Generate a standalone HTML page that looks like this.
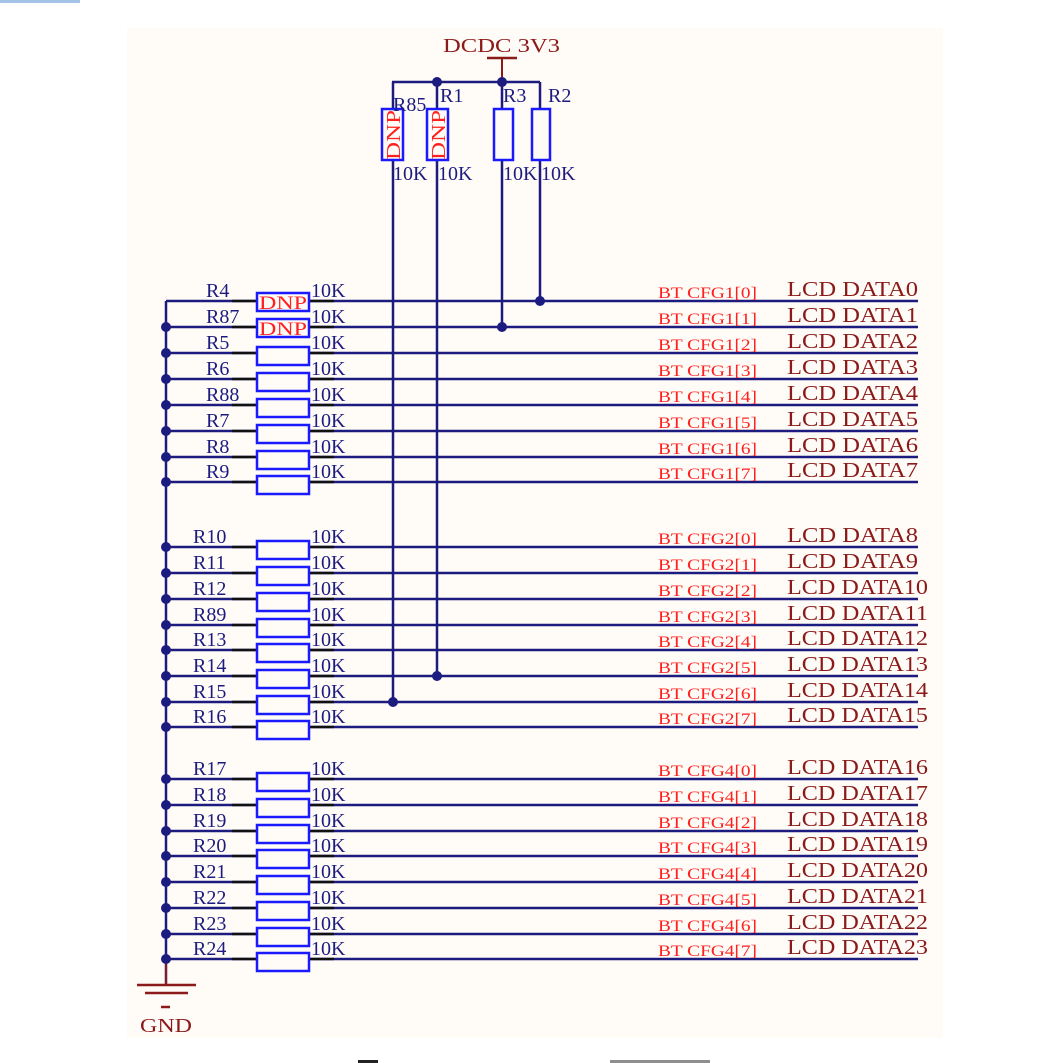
<!DOCTYPE html>
<html><head><meta charset="utf-8"><style>
html,body{margin:0;padding:0;background:#fff;width:1056px;height:1063px;overflow:hidden}
svg{display:block}
text{font-family:"Liberation Serif",serif}
.n{fill:#1c1c80;font-size:20px}
.bt{fill:#ff2020;font-size:16px}
.lcd{fill:#8b1a1a;font-size:21px}
</style></head><body>
<svg width="1056" height="1063" viewBox="0 0 1056 1063" xmlns="http://www.w3.org/2000/svg">
<rect x="0" y="0" width="1056" height="1063" fill="#fff"/>
<rect x="127" y="28" width="816" height="1010" fill="#fffbf6"/>
<!-- partial top heading/caption -->
<rect x="0" y="0" width="80" height="3" fill="#4a86d0" opacity="0.5"/>
<rect x="358" y="1060" width="20" height="3" fill="#222"/>
<rect x="610" y="1060" width="100" height="3" fill="#444" opacity="0.6"/>

<!-- DCDC supply -->
<text x="443" y="52" fill="#8b1a1a" font-size="20" textLength="117" lengthAdjust="spacingAndGlyphs">DCDC 3V3</text>
<line x1="487" y1="58" x2="517" y2="58" stroke="#8b1a1a" stroke-width="2.5"/>
<line x1="502" y1="58" x2="502" y2="82" stroke="#8b1a1a" stroke-width="2"/>
<g stroke="#1c1c80" stroke-width="2.5" fill="none">
<line x1="392" y1="82" x2="540" y2="82"/>
<line x1="393" y1="82" x2="393" y2="702"/>
<line x1="437" y1="82" x2="437" y2="676"/>
<line x1="502" y1="82" x2="502" y2="327"/>
<line x1="540" y1="82" x2="540" y2="301"/>
</g>
<g fill="#1c1c80">
<circle cx="437" cy="82" r="5"/><circle cx="502" cy="82" r="5"/>
<circle cx="502" cy="327" r="5"/><circle cx="540" cy="301" r="5"/>
<circle cx="437" cy="676" r="5"/><circle cx="393" cy="702" r="5"/>
</g>
<g stroke="#1a1aff" stroke-width="2.5" fill="#fffbf6">
<rect x="382" y="109" width="21" height="51"/>
<rect x="427" y="109" width="21" height="51"/>
<rect x="494" y="109" width="19" height="51"/>
<rect x="532" y="109" width="18" height="51"/>
</g>
<text transform="translate(400,160) rotate(-90)" fill="#ff2020" font-size="20" textLength="50" lengthAdjust="spacingAndGlyphs">DNP</text>
<text transform="translate(445,160) rotate(-90)" fill="#ff2020" font-size="20" textLength="50" lengthAdjust="spacingAndGlyphs">DNP</text>
<text class="n" x="393" y="111">R85</text>
<text class="n" x="440" y="102">R1</text>
<text class="n" x="503" y="102">R3</text>
<text class="n" x="548" y="102">R2</text>
<text class="n" x="393" y="180">10K</text>
<text class="n" x="438" y="180">10K</text>
<text class="n" x="503" y="180">10K</text>
<text class="n" x="541" y="180">10K</text>

<!-- left bus -->
<line x1="166" y1="301" x2="166" y2="985" stroke="#1c1c80" stroke-width="2.5"/>
<line x1="166" y1="962" x2="166" y2="985" stroke="#8b1a1a" stroke-width="2"/>
<g stroke="#8b1a1a" stroke-width="2.5">
<line x1="137" y1="985" x2="196" y2="985"/>
<line x1="145" y1="993" x2="188" y2="993"/>
<line x1="161" y1="1007" x2="170" y2="1007"/>
</g>
<text x="140" y="1032" fill="#8b1a1a" font-size="20" textLength="52" lengthAdjust="spacingAndGlyphs">GND</text>

<g id="rows"></g>
</svg>
<script>
var rows=[
[301,"R4",206,"BT CFG1[0]","LCD DATA0",1],[327,"R87",206,"BT CFG1[1]","LCD DATA1",1],[353,"R5",206,"BT CFG1[2]","LCD DATA2"],[379,"R6",206,"BT CFG1[3]","LCD DATA3"],
[405,"R88",206,"BT CFG1[4]","LCD DATA4"],[431,"R7",206,"BT CFG1[5]","LCD DATA5"],[457,"R8",206,"BT CFG1[6]","LCD DATA6"],[482,"R9",206,"BT CFG1[7]","LCD DATA7"],
[547,"R10",193,"BT CFG2[0]","LCD DATA8"],[573,"R11",193,"BT CFG2[1]","LCD DATA9"],[599,"R12",193,"BT CFG2[2]","LCD DATA10"],[625,"R89",193,"BT CFG2[3]","LCD DATA11"],
[650,"R13",193,"BT CFG2[4]","LCD DATA12"],[676,"R14",193,"BT CFG2[5]","LCD DATA13"],[702,"R15",193,"BT CFG2[6]","LCD DATA14"],[727,"R16",193,"BT CFG2[7]","LCD DATA15"],
[779,"R17",193,"BT CFG4[0]","LCD DATA16"],[805,"R18",193,"BT CFG4[1]","LCD DATA17"],[831,"R19",193,"BT CFG4[2]","LCD DATA18"],[856,"R20",193,"BT CFG4[3]","LCD DATA19"],
[882,"R21",193,"BT CFG4[4]","LCD DATA20"],[908,"R22",193,"BT CFG4[5]","LCD DATA21"],[934,"R23",193,"BT CFG4[6]","LCD DATA22"],[959,"R24",193,"BT CFG4[7]","LCD DATA23"]];
var h="";
rows.forEach(function(r,i){
 var y=r[0], dnp=r[5];
 var by = dnp? y-8 : y-6;
 h+='<line x1="166" y1="'+y+'" x2="918" y2="'+y+'" stroke="#1c1c80" stroke-width="2.5"/>';
 h+='<line x1="232" y1="'+y+'" x2="257" y2="'+y+'" stroke="#111" stroke-width="2.5"/>';
 h+='<line x1="309" y1="'+y+'" x2="334" y2="'+y+'" stroke="#111" stroke-width="2.5"/>';
 if(i>0) h+='<circle cx="166" cy="'+y+'" r="5" fill="#1c1c80"/>';
 h+='<rect x="257" y="'+by+'" width="52" height="18" fill="#fffbf6" stroke="#1a1aff" stroke-width="2.5"/>';
 if(dnp) h+='<text x="259" y="'+(by+16)+'" fill="#ff2020" font-size="19" textLength="48" lengthAdjust="spacingAndGlyphs">DNP</text>';
 h+='<text class="n" x="'+r[2]+'" y="'+(y-4)+'">'+r[1]+'</text>';
 h+='<text class="n" x="311" y="'+(y-4)+'">10K</text>';
 h+='<text class="bt" x="658" y="'+(y-3)+'" textLength="99" lengthAdjust="spacingAndGlyphs">'+r[3]+'</text>';
 var w = r[4].length>9?141:131;
 h+='<text class="lcd" x="787" y="'+(y-5)+'" textLength="'+w+'" lengthAdjust="spacingAndGlyphs">'+r[4]+'</text>';
});
document.getElementById("rows").innerHTML=h;
</script>
</body></html>
